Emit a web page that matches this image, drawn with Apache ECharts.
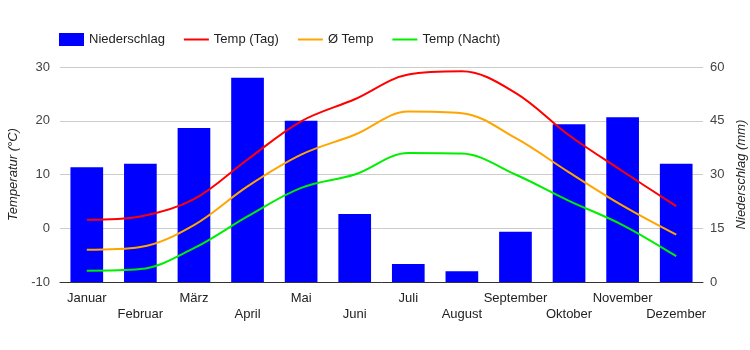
<!DOCTYPE html>
<html>
<head>
<meta charset="utf-8">
<script src="https://cdn.jsdelivr.net/npm/echarts@6/dist/echarts.min.js"></script>
<style>
  html, body { margin: 0; padding: 0; background: #fff; }
  #klima { width: 750px; height: 350px; }
</style>
</head>
<body>
<div id="klima"></div>
<script>
// Monate
var monate = ["Januar", "Februar", "März", "April", "Mai", "Juni", "Juli",
  "August", "September", "Oktober", "November", "Dezember"];
// Niederschlag in mm
var niederschlag = [32, 33, 43, 57, 45, 19, 5, 3, 14, 44, 46, 33];
// Temperaturen in °C
var tempTag = [1.6, 2.2, 5.4, 12.8, 19.9, 24.0, 28.6, 29.2, 25.2, 17.3, 10.6, 4.1];
var tempMittel = [-4.0, -3.5, 0.6, 7.8, 13.7, 17.4, 21.7, 21.4, 16.8, 10.4, 4.2, -1.2];
var tempNacht = [-7.9, -7.6, -3.7, 2.2, 7.5, 10.0, 14.0, 13.9, 10.0, 5.1, 0.6, -5.2];
// Achsen
var tempTicks = { min: -10, max: 30, step: 10 };
var mmTicks = { min: 0, max: 60, step: 15 };

var chart = echarts.init(document.getElementById("klima"));

var schrift = "Arial, Liberation Sans, sans-serif";
// Legendensymbol fuer Linien: nur ein Strich
var strich = "path://M0,0 L25,0 L25,2 L0,2 Z";

var option = {
  animation: false,
  legend: {
    left: 54,
    top: 28,
    itemWidth: 25,
    itemHeight: 13,
    itemGap: 19,
    textStyle: { color: "#222", fontSize: 13, fontFamily: schrift },
    data: [
      { name: "Niederschlag", icon: "rect" },
      { name: "Temp (Tag)", icon: strich, symbolKeepAspect: true },
      { name: "Ø Temp", icon: strich, symbolKeepAspect: true },
      { name: "Temp (Nacht)", icon: strich, symbolKeepAspect: true }
    ]
  },
  grid: { left: 60, right: 47, top: 67, bottom: 68, outerBoundsMode: "none", containLabel: false },
  xAxis: {
    type: "category",
    data: monate,
    axisTick: { show: false },
    axisLine: { onZero: false, lineStyle: { color: "#333" } },
    axisLabel: {
      interval: 0,
      margin: 8,
      color: "#222",
      fontSize: 13,
      lineHeight: 16,
      fontFamily: schrift,
      formatter: function (v, i) {
        return i % 2 ? "\n" + v : v;
      }
    }
  },
  yAxis: [
    {
      type: "value",
      min: tempTicks.min,
      max: tempTicks.max,
      interval: tempTicks.step,
      name: "Temperatur (°C)",
      nameLocation: "middle",
      nameGap: 37,
      nameTextStyle: { color: "#222", fontSize: 13, fontStyle: "italic", fontFamily: schrift },
      axisLine: { show: false },
      axisTick: { show: false },
      axisLabel: { color: "#444", fontSize: 13, margin: 10, fontFamily: schrift },
      splitLine: { lineStyle: { color: "#ccc" } }
    },
    {
      type: "value",
      min: mmTicks.min,
      max: mmTicks.max,
      interval: mmTicks.step,
      name: "Niederschlag (mm)",
      nameLocation: "middle",
      nameGap: 27,
      nameRotate: 90,
      nameTextStyle: { color: "#222", fontSize: 13, fontStyle: "italic", fontFamily: schrift },
      axisLine: { show: false },
      axisTick: { show: false },
      axisLabel: { color: "#444", fontSize: 13, margin: 7, fontFamily: schrift },
      splitLine: { show: false }
    }
  ],
  series: [
    {
      name: "Niederschlag",
      type: "bar",
      yAxisIndex: 1,
      barWidth: "61%",
      itemStyle: { color: "#0000ff" },
      data: niederschlag
    },
    {
      name: "Temp (Tag)",
      type: "line",
      smooth: 0.35,
      symbol: "none",
      lineStyle: { color: "#ff0000", width: 2 },
      itemStyle: { color: "#ff0000" },
      data: tempTag
    },
    {
      name: "Ø Temp",
      type: "line",
      smooth: 0.35,
      symbol: "none",
      lineStyle: { color: "#ffa500", width: 2 },
      itemStyle: { color: "#ffa500" },
      data: tempMittel
    },
    {
      name: "Temp (Nacht)",
      type: "line",
      smooth: 0.35,
      symbol: "none",
      lineStyle: { color: "#00ee00", width: 2 },
      itemStyle: { color: "#00ee00" },
      data: tempNacht
    }
  ]
};

chart.setOption(option);
window.addEventListener("resize", function () {
  chart.resize();
});
</script>
</body>
</html>
